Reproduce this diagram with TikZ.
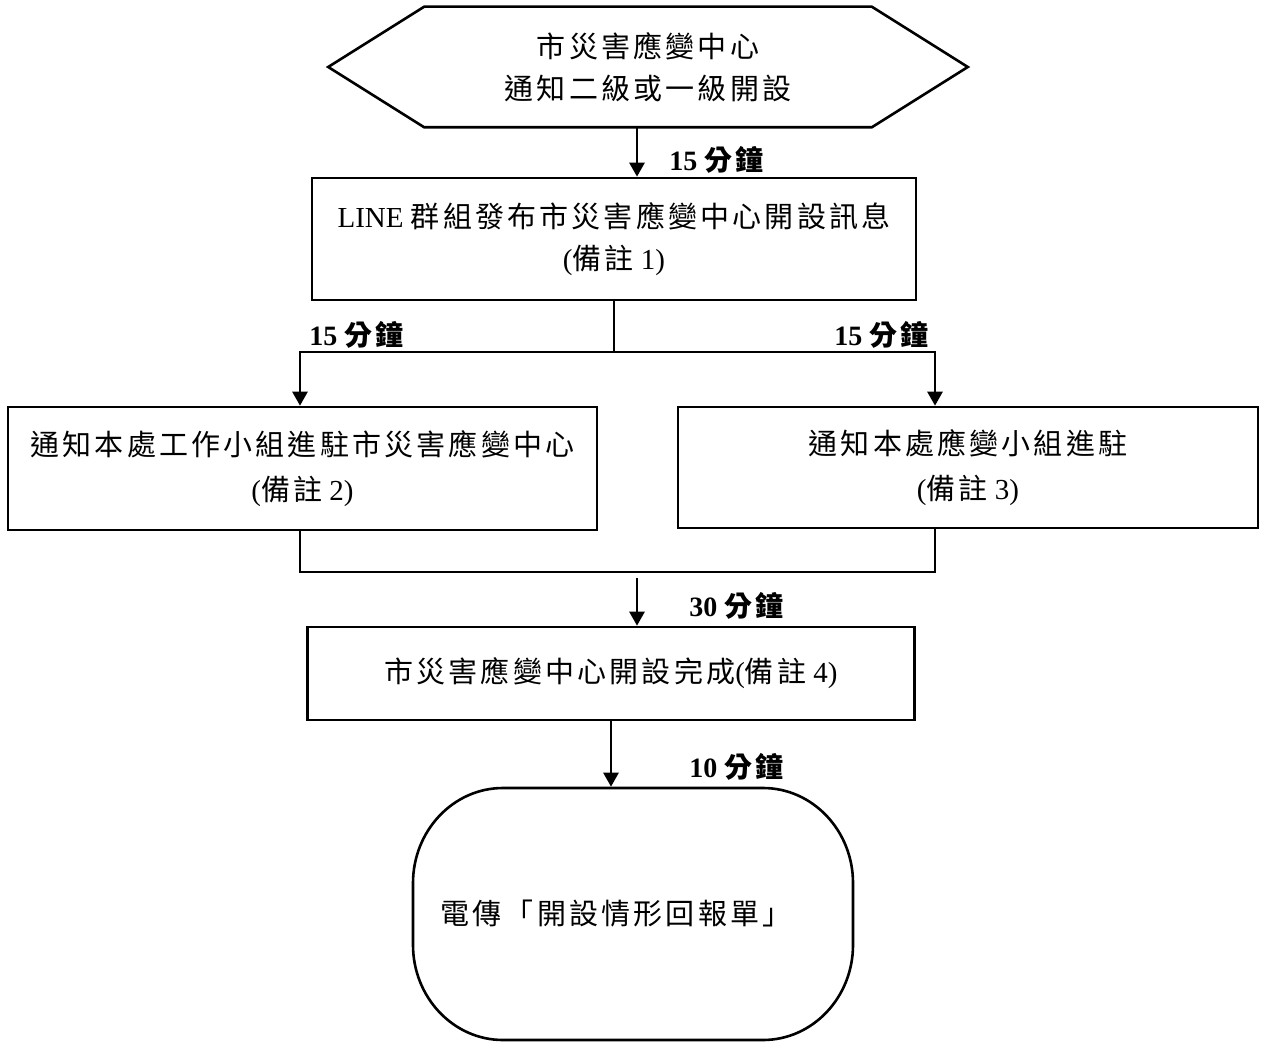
\documentclass[tikz,border=0pt]{standalone}
\usepackage{fontspec}
\setmainfont{Liberation Serif}
\newfontfamily\cjk[LetterSpace=11]{Noto Sans CJK TC}
\newcommand\zh[1]{{\cjk #1}}
\usetikzlibrary{arrows.meta}
\begin{document}
\begin{tikzpicture}[x=1pt,y=-1pt, line width=2.6pt,
  box/.style={draw, rectangle, align=center, inner sep=0pt, font=\fontsize{29}{42}\selectfont},
  txt/.style={align=center, inner sep=0pt, font=\fontsize{29}{42}\selectfont},
  lab/.style={inner sep=0pt, anchor=west, font=\fontsize{28}{30}\selectfont\bfseries},
  arr/.style={-{Triangle[width=15pt,length=14pt]}}]
\useasboundingbox (0,0) rectangle (1266,1043);
% hexagon
\node[txt, minimum width=445pt, minimum height=118pt] (hex) at (648,67)
  {\zh{市災害應變中心}\\\zh{通知二級或一級開設}};
\draw (hex.north west) -- (hex.north east) -- ([xshift=96pt]hex.east)
  -- (hex.south east) -- (hex.south west) -- ([xshift=-96pt]hex.west) -- cycle;
% box 1
\node[box, minimum width=604pt, minimum height=122pt] (b1) at (614,239)
  {LINE \zh{群組發布市災害應變中心開設訊息}\\(\zh{備註} 1)};
\draw[arr] ([xshift=-11pt]hex.south) -- ([xshift=-11pt]hex.south |- b1.north);
\node[lab] (l1) at (668,160) {15 \zh{分鐘}};
% boxes 2 and 3
\node[box, minimum width=589pt, minimum height=123pt] (b2) at (302.5,468.5)
  {\zh{通知本處工作小組進駐市災害應變中心}\\[3pt](\zh{備註} 2)};
\node[box, minimum width=580pt, minimum height=121pt] (b3) at (968,467.5)
  {\zh{通知本處應變小組進駐}\\[3pt](\zh{備註} 3)};
\coordinate (bl) at (300,352);
\coordinate (br) at (935,352);
\draw (b1.south) -- (b1.south |- bl);
\draw[line cap=rect] (bl) -- (br);
\draw[arr] (bl) -- (bl |- b2.north);
\draw[arr] (br) -- (br |- b3.north);
\node[lab] (l2) at (308,335) {15 \zh{分鐘}};
\node[lab] (l3) at (833,335) {15 \zh{分鐘}};
% merge
\coordinate (ml) at (300,572);
\coordinate (mr) at (935,572);
\draw (bl |- b2.south) -- (ml) -- (mr) -- (br |- b3.south);
% box 4
\node[box, minimum width=607pt, minimum height=93pt] (b4) at (611,673.5)
  {\zh{市災害應變中心開設完成}(\zh{備註} 4)};
\coordinate (mo) at (637,578);
\draw[arr] (mo) -- (mo |- b4.north);
\node[lab] (l4) at (688,606) {30 \zh{分鐘}};
% final
\node[txt, minimum width=440pt, minimum height=252pt] (fin) at (633,914)
  {\hspace*{-34pt}\zh{電傳「開設情形回報單」}};
\draw (503,788) -- (763,788) .. controls (813,788) and (853,831) .. (853,883)
  -- (853,945) .. controls (853,997) and (813,1040) .. (763,1040)
  -- (503,1040) .. controls (453,1040) and (413,997) .. (413,945)
  -- (413,883) .. controls (413,831) and (453,788) .. (503,788) -- cycle;
\draw[arr] (b4.south) -- (b4.south |- fin.north);
\node[lab] (l5) at (688,767) {10 \zh{分鐘}};
\end{tikzpicture}
\end{document}
